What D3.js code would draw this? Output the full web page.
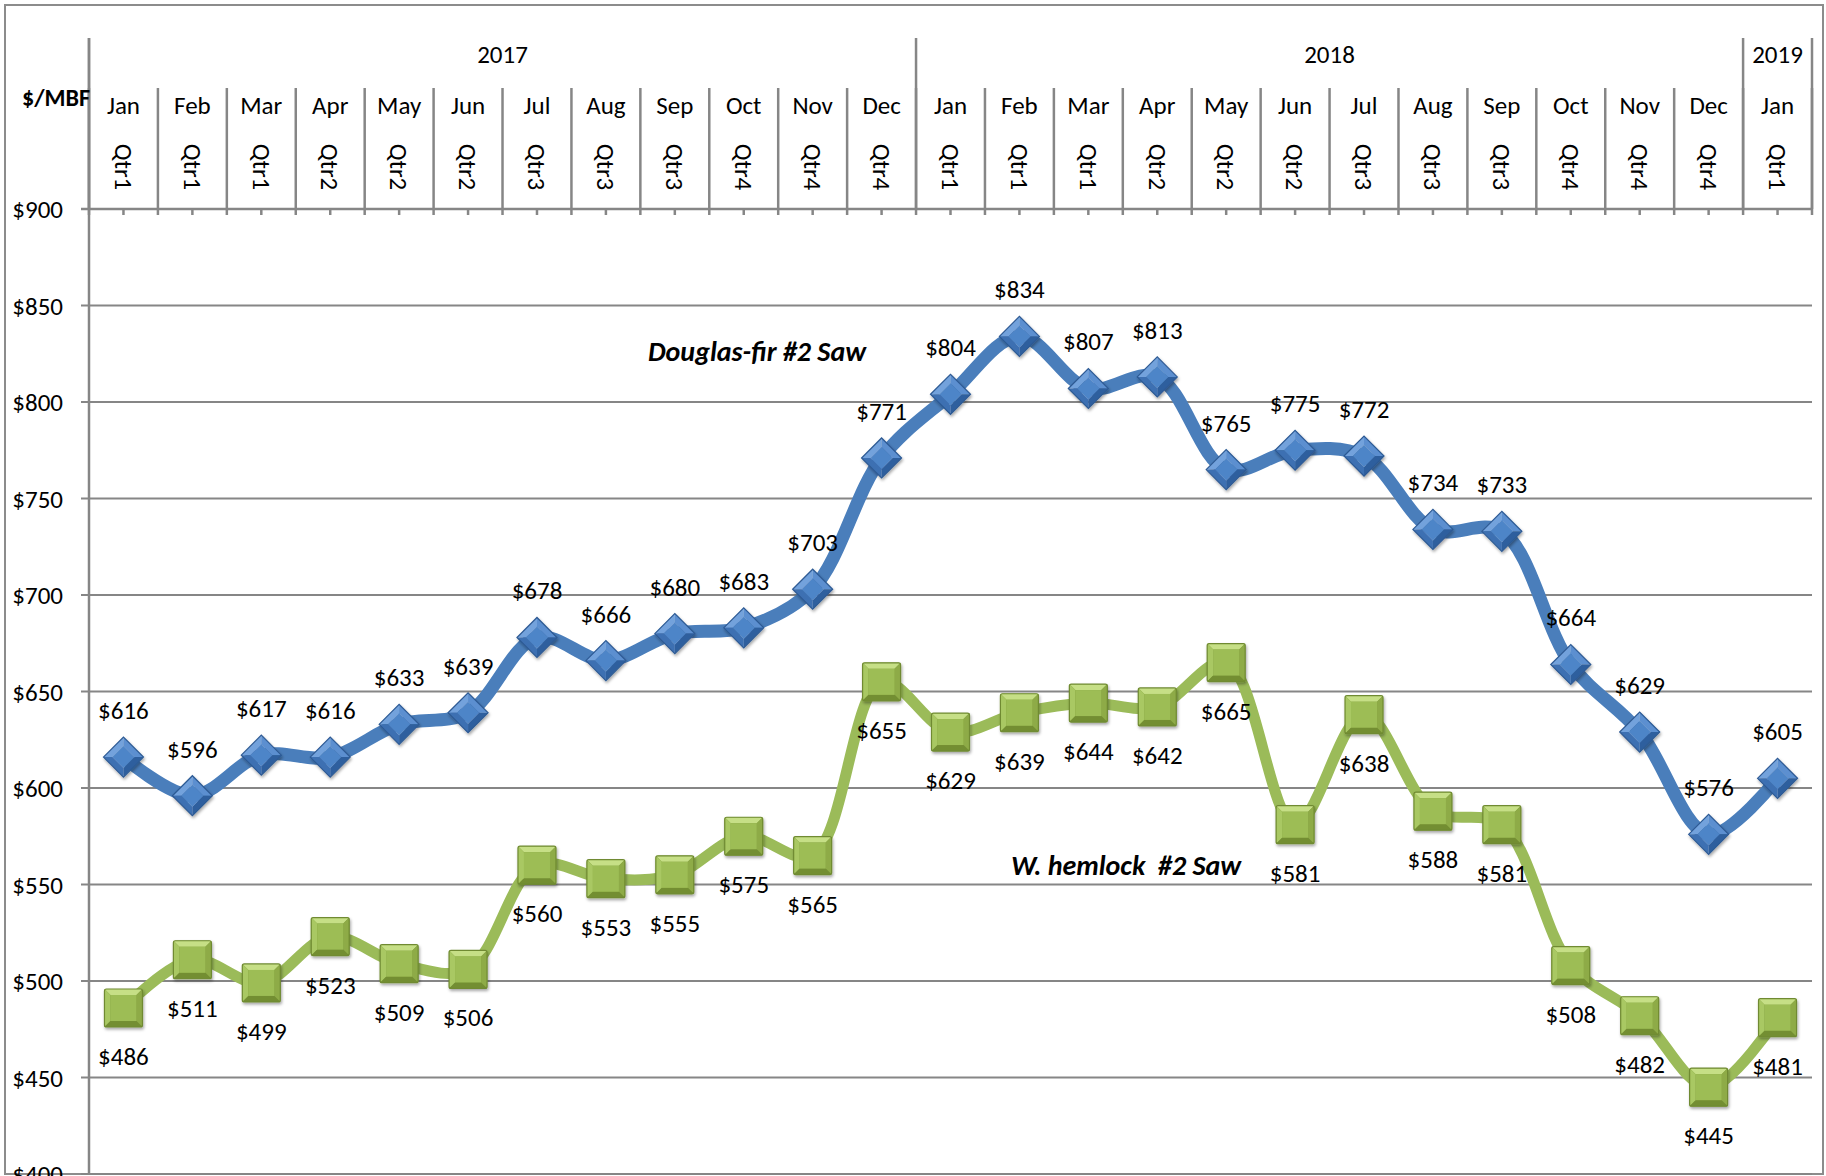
<!DOCTYPE html>
<html>
<head>
<meta charset="utf-8">
<title>Douglas-fir and W. hemlock #2 Saw log prices</title>
<style>
  body { margin: 0; background: #fff; }
  text { font-family: Carlito, Lato, "Open Sans", sans-serif; fill: #000; }
</style>
</head>
<body>
<script src="https://cdn.jsdelivr.net/npm/d3@7"></script>
<script>

// category labels for the two header rows
var months   = ["Jan","Feb","Mar","Apr","May","Jun","Jul","Aug","Sep","Oct","Nov","Dec",
                "Jan","Feb","Mar","Apr","May","Jun","Jul","Aug","Sep","Oct","Nov","Dec","Jan"];
var quarters = ["Qtr1","Qtr1","Qtr1","Qtr2","Qtr2","Qtr2","Qtr3","Qtr3","Qtr3","Qtr4","Qtr4","Qtr4",
                "Qtr1","Qtr1","Qtr1","Qtr2","Qtr2","Qtr2","Qtr3","Qtr3","Qtr3","Qtr4","Qtr4","Qtr4","Qtr1"];
var years    = ["2017","2018","2019"];
var yearSpan = [12, 12, 1];   // number of months under each year

// $/MBF values
var douglasFir = [616,596,617,616,633,639,678,666,680,683,703,771,
                  804,834,807,813,765,775,772,734,733,664,629,576,605];
var hemlock    = [486,511,499,523,509,506,560,553,555,575,565,655,
                  629,639,644,642,665,581,638,588,581,508,482,445,481];

var yTicks = [400,450,500,550,600,650,700,750,800,850,900];

var W = 1826, H = 1176;
var plot = {left: 89, right: 1812, top: 209, bottom: 1174};
var headTop = 38, monthTop = 88;
var gridColor = "#868686";
var fs = "25px";

var svg = d3.select("body").append("svg")
    .attr("width", W)
    .attr("height", H);

// shadow filter for markers
var defs = svg.append("defs");
var f = defs.append("filter").attr("id", "shadow")
    .attr("x", "-30%").attr("y", "-30%").attr("width", "160%").attr("height", "160%");
f.append("feDropShadow").attr("dx", 1).attr("dy", 2).attr("stdDeviation", 1.8)
    .attr("flood-color", "#000").attr("flood-opacity", 0.35);

var idx = d3.range(months.length);

var x = d3.scaleBand()
    .domain(idx)
    .range([plot.left, plot.right]);
var cx = function(i) { return x(i) + x.bandwidth() / 2; };

var y = d3.scaleLinear()
    .domain([400, 900])
    .range([plot.bottom, plot.top]);

// outer frame
svg.append("rect")
    .attr("x", 5).attr("y", 5)
    .attr("width", 1818).attr("height", 1169)
    .style("fill", "none")
    .style("stroke", "#8c8c8c")
    .style("stroke-width", 2);

// horizontal gridlines + left ticks
var grid = svg.append("g");
grid.selectAll("line.grid")
    .data(yTicks)
    .enter().append("line")
    .attr("class", "grid")
    .attr("x1", plot.left - 8)
    .attr("x2", plot.right)
    .attr("y1", function(d) { return y(d); })
    .attr("y2", function(d) { return y(d); })
    .style("stroke", gridColor)
    .style("stroke-width", 2);

grid.selectAll("text")
    .data(yTicks)
    .enter().append("text")
    .attr("x", 63)
    .attr("y", function(d) { return y(d) + 9; })
    .attr("text-anchor", "end")
    .style("font-size", fs)
    .text(function(d) { return "$" + d; });

// left axis
svg.append("line")
    .attr("x1", plot.left).attr("x2", plot.left)
    .attr("y1", headTop).attr("y2", plot.bottom)
    .style("stroke", gridColor).style("stroke-width", 2.5);

// header: month separators, small ticks below the top axis
var head = svg.append("g");
var bounds = d3.range(months.length + 1).map(function(i) {
    return i < months.length ? x(i) : plot.right;
});
head.selectAll("line.msep")
    .data(bounds)
    .enter().append("line")
    .attr("class", "msep")
    .attr("x1", function(d) { return d; })
    .attr("x2", function(d) { return d; })
    .attr("y1", monthTop)
    .attr("y2", plot.top + 6)
    .style("stroke", gridColor).style("stroke-width", 2.5);

head.selectAll("line.ctick")
    .data(idx)
    .enter().append("line")
    .attr("class", "ctick")
    .attr("x1", function(d) { return cx(d); })
    .attr("x2", function(d) { return cx(d); })
    .attr("y1", plot.top)
    .attr("y2", plot.top + 6)
    .style("stroke", gridColor).style("stroke-width", 2.5);

// year separators
var yearStart = [0];
yearSpan.forEach(function(n, i) { yearStart.push(yearStart[i] + n); });
head.selectAll("line.ysep")
    .data(yearStart)
    .enter().append("line")
    .attr("class", "ysep")
    .attr("x1", function(d) { return bounds[d]; })
    .attr("x2", function(d) { return bounds[d]; })
    .attr("y1", headTop)
    .attr("y2", plot.top)
    .style("stroke", gridColor).style("stroke-width", 2.5);

head.selectAll("text.year")
    .data(years)
    .enter().append("text")
    .attr("class", "year")
    .attr("x", function(d, i) { return (bounds[yearStart[i]] + bounds[yearStart[i + 1]]) / 2; })
    .attr("y", 63)
    .attr("text-anchor", "middle")
    .style("font-size", fs)
    .text(function(d) { return d; });

head.selectAll("text.month")
    .data(idx)
    .enter().append("text")
    .attr("class", "month")
    .attr("x", function(d) { return cx(d); })
    .attr("y", 114)
    .attr("text-anchor", "middle")
    .style("font-size", fs)
    .text(function(d) { return months[d]; });

head.selectAll("text.qtr")
    .data(idx)
    .enter().append("text")
    .attr("class", "qtr")
    .attr("transform", function(d) { return "translate(" + cx(d) + ",167) rotate(90)"; })
    .attr("text-anchor", "middle")
    .attr("dy", "0.35em")
    .style("font-size", fs)
    .text(function(d) { return quarters[d]; });

// top axis line
svg.append("line")
    .attr("x1", plot.left - 8).attr("x2", plot.right)
    .attr("y1", plot.top).attr("y2", plot.top)
    .style("stroke", gridColor).style("stroke-width", 2.5);

svg.append("text")
    .attr("x", 56).attr("y", 106)
    .attr("text-anchor", "middle")
    .style("font-size", "24px")
    .style("font-weight", "bold")
    .text("$/MBF");

// lines
var line = function(values) {
    return d3.line()
        .x(function(d, i) { return cx(i); })
        .y(function(d) { return y(d); })
        .curve(d3.curveCatmullRom.alpha(0.5))(values);
};

svg.append("path")
    .attr("d", line(hemlock))
    .style("fill", "none")
    .style("stroke", "#9bbb59")
    .style("stroke-width", 11)
    .style("stroke-linejoin", "round");

svg.append("path")
    .attr("d", line(douglasFir))
    .style("fill", "none")
    .style("stroke", "#4a7ebb")
    .style("stroke-width", 13)
    .style("stroke-linejoin", "round");

// green bevelled squares
var hs = 19, bv = 6;
var sq = svg.append("g").selectAll("g")
    .data(hemlock)
    .enter().append("g")
    .attr("transform", function(d, i) { return "translate(" + cx(i) + "," + y(d) + ")"; })
    .attr("filter", "url(#shadow)");

sq.append("rect")
    .attr("x", -hs).attr("y", -hs).attr("width", 2 * hs).attr("height", 2 * hs)
    .attr("rx", 2)
    .style("fill", "#7f9c3c");
var sqFacets = [
    {pts: [[-hs,-hs],[hs,-hs],[hs-bv,-hs+bv],[-hs+bv,-hs+bv]], c: "#c6df86"},
    {pts: [[-hs,-hs],[-hs+bv,-hs+bv],[-hs+bv,hs-bv],[-hs,hs]], c: "#a9c863"},
    {pts: [[hs,-hs],[hs,hs],[hs-bv,hs-bv],[hs-bv,-hs+bv]], c: "#8eab47"},
    {pts: [[-hs,hs],[-hs+bv,hs-bv],[hs-bv,hs-bv],[hs,hs]], c: "#738e33"}
];
sqFacets.forEach(function(fc) {
    sq.append("polygon")
        .attr("points", fc.pts.map(function(p) { return p.join(","); }).join(" "))
        .style("fill", fc.c);
});
sq.append("rect")
    .attr("x", -hs + bv).attr("y", -hs + bv)
    .attr("width", 2 * (hs - bv)).attr("height", 2 * (hs - bv))
    .style("fill", "#9dbd55");
sq.append("rect")
    .attr("x", -hs).attr("y", -hs).attr("width", 2 * hs).attr("height", 2 * hs)
    .attr("rx", 2)
    .style("fill", "none").style("stroke", "#6f8a31").style("stroke-width", 1.2);

// blue bevelled diamonds
var dh = 20, di = 11;
var dm = svg.append("g").selectAll("g")
    .data(douglasFir)
    .enter().append("g")
    .attr("transform", function(d, i) { return "translate(" + cx(i) + "," + y(d) + ")"; })
    .attr("filter", "url(#shadow)");

var dmFacets = [
    {pts: [[-dh,0],[0,-dh],[0,-di],[-di,0]], c: "#73a2dc"},
    {pts: [[0,-dh],[dh,0],[di,0],[0,-di]], c: "#5b8fd0"},
    {pts: [[dh,0],[0,dh],[0,di],[di,0]], c: "#2f5f9e"},
    {pts: [[0,dh],[-dh,0],[-di,0],[0,di]], c: "#3e70b2"}
];
dmFacets.forEach(function(fc) {
    dm.append("polygon")
        .attr("points", fc.pts.map(function(p) { return p.join(","); }).join(" "))
        .style("fill", fc.c);
});
dm.append("polygon")
    .attr("points", [[-di,0],[0,-di],[di,0],[0,di]].map(function(p) { return p.join(","); }).join(" "))
    .style("fill", "#4e85c8");
dm.append("polygon")
    .attr("points", [[-dh,0],[0,-dh],[dh,0],[0,dh]].map(function(p) { return p.join(","); }).join(" "))
    .style("fill", "none").style("stroke", "#2d5a94").style("stroke-width", 1.2);

// data labels
svg.append("g").selectAll("text")
    .data(douglasFir)
    .enter().append("text")
    .attr("x", function(d, i) { return cx(i); })
    .attr("y", function(d) { return y(d) - 38; })
    .attr("text-anchor", "middle")
    .style("font-size", fs)
    .text(function(d) { return "$" + d; });

svg.append("g").selectAll("text")
    .data(hemlock)
    .enter().append("text")
    .attr("x", function(d, i) { return cx(i); })
    .attr("y", function(d) { return y(d) + 57; })
    .attr("text-anchor", "middle")
    .style("font-size", fs)
    .text(function(d) { return "$" + d; });

// series names
svg.append("text")
    .attr("x", 757).attr("y", 361)
    .attr("text-anchor", "middle")
    .style("font-size", "28px")
    .style("font-weight", "bold")
    .style("font-style", "italic")
    .text("Douglas-fir #2 Saw");

svg.append("text")
    .attr("x", 1126).attr("y", 875)
    .attr("text-anchor", "middle")
    .style("font-size", "28px")
    .style("font-weight", "bold")
    .style("font-style", "italic")
    .style("white-space", "pre")
    .text("W. hemlock  #2 Saw");

</script>
</body>
</html>
